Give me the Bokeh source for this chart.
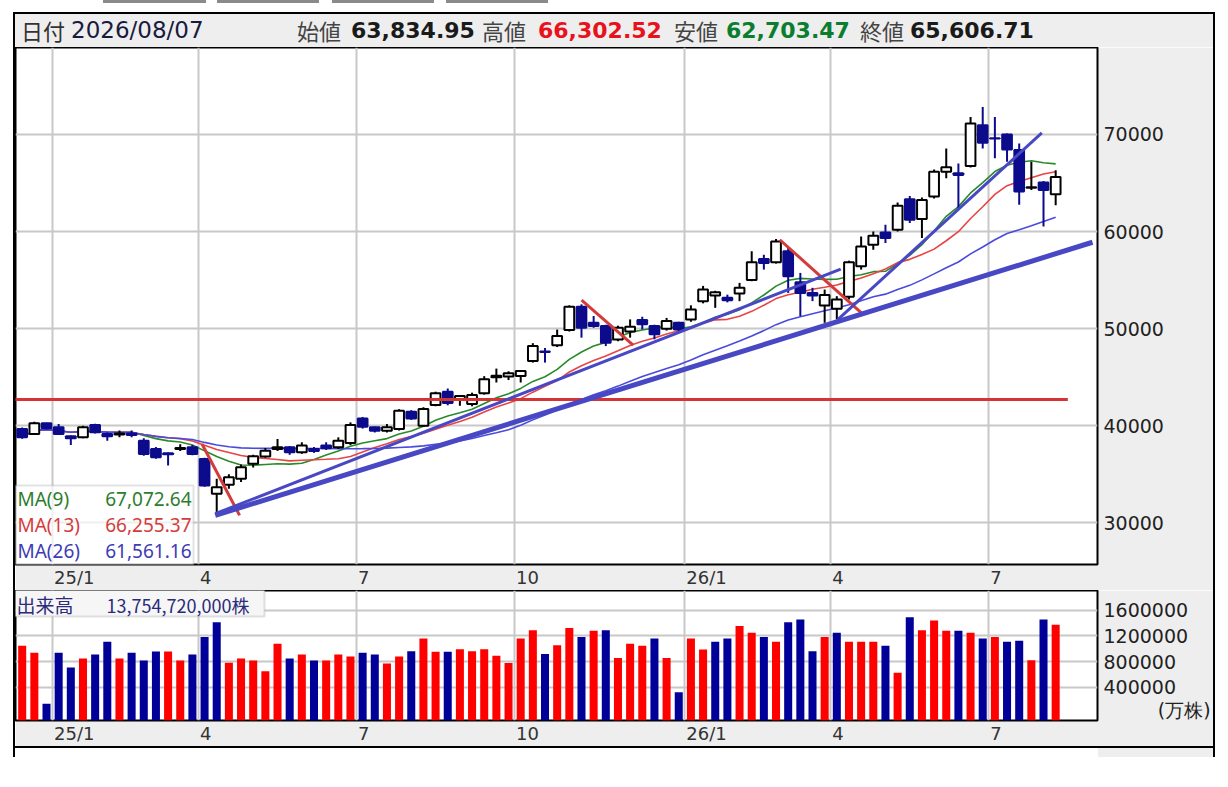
import pandas as pd
from bokeh.plotting import figure
from bokeh.models import (Range1d, FixedTicker, Label, BoxAnnotation, Div, Spacer,
                          ColumnDataSource, PrintfTickFormatter)
from bokeh.layouts import column, row
from bokeh.embed import file_html
from bokeh.resources import INLINE

# ---------------- data (weekly bars) ----------------
opens = [39650, 39150, 40240, 39830, 38900, 38800, 40070, 39150, 39100, 39200,
         38460, 37600, 37150, 37600, 37780, 36580, 32990, 33910, 34530, 36070,
         36820, 37600, 37780, 37260, 37600, 37950, 37780, 38220, 40750, 39830,
         39490, 39660, 41440, 40000, 42120, 43490, 42750, 42230, 43350, 44980,
         45060, 45130, 46670, 47650, 48280, 49850, 52250, 50600, 50260, 48890,
         49700, 50880, 50260, 49990, 50600, 50950, 52830, 53410, 53170, 53610,
         55000, 57170, 56830, 57960, 54780, 53680, 52385, 52040, 53270, 56420,
         58640, 59910, 60180, 63330, 61280, 63600, 66170, 66000, 66750, 70960,
         69610, 70000, 68390, 64520, 65040, 63834.95]
highs = [39800, 40400, 40300, 40170, 39000, 40000, 40200, 39300, 39500, 39500,
         38700, 37800, 37250, 38100, 38000, 36700, 34530, 35000, 36000, 37000,
         37700, 38630, 37900, 38290, 37800, 38290, 38800, 40340, 40900, 39900,
         40170, 41700, 41600, 41900, 43500, 43830, 43150, 43400, 45100, 45880,
         45600, 45700, 48500, 48000, 49900, 52400, 52500, 51300, 50400, 50300,
         50950, 51220, 50400, 51100, 50700, 52400, 54400, 53900, 53500, 54710,
         57960, 57620, 59220, 58300, 55740, 54200, 54025, 53340, 57000, 59500,
         60010, 60700, 63000, 63670, 63500, 66400, 68560, 67020, 71810, 72840,
         71810, 70100, 69070, 67190, 65200, 66302.52]
lows = [38650, 39050, 39600, 39050, 38000, 38700, 39200, 38460, 38800, 38800,
        36900, 36600, 35900, 37400, 36950, 33700, 30770, 33500, 34200, 35700,
        36700, 37400, 37000, 37100, 37200, 37500, 37600, 38000, 39700, 39300,
        39300, 39500, 40600, 39900, 42000, 42100, 42050, 42000, 43200, 44450,
        44700, 44450, 46500, 46500, 48100, 49700, 49070, 50090, 48200, 48700,
        49070, 49920, 48900, 49800, 49750, 50700, 52600, 52140, 52700, 52830,
        54880, 56080, 56700, 53680, 51290, 52830, 50600, 50950, 53000, 56080,
        58130, 58810, 60000, 60870, 59330, 63400, 65480, 62400, 66600, 68560,
        67540, 67190, 62750, 64290, 60520, 62703.47]
closes = [38800, 40240, 39730, 39150, 38700, 39830, 39320, 38900, 39200, 39050,
          37090, 36750, 37050, 37700, 37090, 33840, 33670, 34700, 35720, 36850,
          37430, 37770, 37260, 37950, 37400, 37670, 38460, 40070, 39900, 39490,
          39830, 41540, 40750, 41710, 43350, 42330, 43050, 43150, 44790, 45150,
          45400, 45640, 48210, 47600, 49230, 52250, 50090, 50260, 48550, 50090,
          50200, 50440, 49410, 50780, 49920, 51970, 54020, 53750, 52930, 54200,
          56830, 56760, 58985, 55390, 53680, 53410, 53450, 53000, 56830, 58470,
          59570, 59330, 62650, 61210, 63260, 66170, 66610, 65830, 71130, 69140,
          69580, 68460, 64120, 64550, 64290, 65606.71]
volumes = [1048300, 936400, 144000, 936400, 706500, 849000, 910400, 1109600, 849000, 936400,
           818400, 956300, 956300, 818400, 910400, 1181600, 1411500, 783200, 849000, 818400,
           649800, 1079000, 849000, 910400, 818400, 818400, 910400, 879700, 936400, 910400,
           772400, 879700, 962000, 1159500, 952000, 952000, 992400, 962000, 992400, 891200,
           779800, 1159500, 1286100, 916500, 1053200, 1323800, 1183300, 1278700, 1288700, 856900,
           1077800, 1047700, 1158200, 856900, 324700, 1158200, 987400, 1107900, 1158200, 1354000,
           1248500, 1183300, 1107900, 1414200, 1454400, 962300, 1183300, 1248500, 1107900, 1107900,
           1107900, 1047700, 625900, 1489500, 1288700, 1439300, 1278700, 1278700, 1248500, 1158200,
           1183300, 1107900, 1122900, 821700, 1454400, 1375472]

month_first_bar = [3, 15, 28, 41, 55, 67, 80]
month_labels = ["25/1", "4", "7", "10", "26/1", "4", "7"]
price_ticks = [30000, 40000, 50000, 60000, 70000]
vol_ticks = [400000, 800000, 1200000, 1600000]
vol_unit_label = "(万株)"
ma_periods = [9, 13, 26]
ma_legend_values = ["67,072.64", "66,255.37", "61,561.16"]

header_date = "2026/08/07"
header_open = "63,834.95"
header_high = "66,302.52"
header_low = "62,703.47"
header_close = "65,606.71"
volume_label = "出来高"
volume_text = "13,754,720,000株"

# user drawn lines (bar index, price)
blue_lines = dict(x0=[15.88, 15.88, 67.1], y0=[30759, 30934, 50944],
                  x1=[88.03, 67.32, 83.86], y1=[58897, 56126, 70164])
red_lines = dict(x0=[14.79, 46.01, 62.31], y0=[38117, 52925, 59153],
                 x1=[17.88, 50.25, 69.02], y1=[30759, 48307, 51632])
support_price = 42700
support_end_bar = 86

# ---------------- styles ----------------
GRAY = "#eeeeee"
GRID = "#c8c8c8"
NAVY = "#0b0b8c"
W = 1198
FRAME_W = 1083
RIGHT_W = W - FRAME_W
AXIS_FONT = "DejaVu Sans"
XLAB_PX = 18
MA_COLORS = ["#2a8a2a", "#e84444", "#4a4ade"]
MA_TEXT_COLORS = ["#2d7d2d", "#d43c3c", "#3c3cb4"]

n = len(closes)
xs = list(range(n))
up = [c >= o for o, c in zip(opens, closes)]
src = ColumnDataSource(dict(
    x=xs, high=highs, low=lows,
    top=[max(o, c) for o, c in zip(opens, closes)],
    bottom=[min(o, c) for o, c in zip(opens, closes)],
    fill=["white" if u else NAVY for u in up],
    line=["black" if u else NAVY for u in up],
))
vol_up = [True] + [closes[i] >= closes[i - 1] for i in range(1, n)]
vsrc = ColumnDataSource(dict(x=xs, vol=volumes,
                             color=["#ff0000" if u else "#000099" for u in vol_up]))
cs = pd.Series(closes, dtype=float)
mas = [cs.rolling(k, min_periods=1).mean().tolist() for k in ma_periods]

x_range = Range1d(-0.55, 88.44)
PX_PER_BAR = FRAME_W / (x_range.end - x_range.start)
month_ticks = [b - 0.5 for b in month_first_bar]


def label_shift(text):
    # month labels start at their gridline: shift centred tick label by half its width
    w = sum(0.337 if ch == "/" else 0.636 for ch in text) * XLAB_PX
    return (w / 2 + 1.5) / PX_PER_BAR


label_ticks = [t + label_shift(l) for t, l in zip(month_ticks, month_labels)]


def style(fig, yticks, extra_label=None):
    fig.grid.grid_line_color = GRID
    fig.grid.grid_line_width = 2
    fig.xgrid.ticker = FixedTicker(ticks=month_ticks)
    fig.ygrid.ticker = FixedTicker(ticks=yticks)
    xa = fig.xaxis[0]
    xa.ticker = FixedTicker(ticks=label_ticks)
    xa.major_label_overrides = dict(zip(label_ticks, month_labels))
    xa.major_label_text_font = AXIS_FONT
    xa.major_label_text_font_size = f"{XLAB_PX}px"
    xa.major_label_text_color = "#333333"
    xa.major_label_standoff = 2
    xa.major_tick_out = 0
    xa.major_tick_in = 0
    xa.minor_tick_out = 0
    xa.minor_tick_in = 0
    xa.axis_line_color = None
    ya = fig.yaxis[0]
    ticks = list(yticks)
    if extra_label is not None:
        ticks.append(extra_label[0])
        ya.major_label_overrides = {extra_label[0]: extra_label[1]}
    ya.ticker = FixedTicker(ticks=ticks)
    ya.formatter = PrintfTickFormatter(format="%d")
    ya.major_label_text_font = AXIS_FONT
    ya.major_label_text_font_size = "19px"
    ya.major_label_text_color = "#222222"
    ya.major_label_standoff = 6
    ya.major_tick_out = 0
    ya.major_tick_in = 0
    ya.minor_tick_out = 0
    ya.minor_tick_in = 0
    ya.axis_line_color = None


# ---------------- price panel ----------------
p = figure(width=W, height=543, x_range=x_range, y_range=Range1d(25700, 78958),
           output_backend="svg", toolbar_location=None, y_axis_location="right",
           min_border_left=0, min_border_right=RIGHT_W, min_border_top=0, min_border_bottom=24,
           border_fill_color=GRAY, background_fill_color="white",
           outline_line_color="black", outline_line_width=2)
style(p, price_ticks)

for vals, col in zip(mas, MA_COLORS):
    p.line(xs, vals, line_color=col, line_width=1.6)

p.segment(x0="x", y0="high", x1="x", y1="low", line_color="line", line_width=2, source=src)
p.vbar(x="x", width=0.8, top="top", bottom="bottom", fill_color="fill",
       line_color="line", line_width=2, source=src)

p.segment(x0=[x_range.start - 1], y0=[support_price], x1=[support_end_bar], y1=[support_price],
          line_color="#d43434", line_width=3)
p.segment(x0="x0", y0="y0", x1="x1", y1="y1", line_color="#d43c3c", line_width=3,
          source=ColumnDataSource(red_lines))
bsrc = ColumnDataSource(dict(blue_lines, w=[5, 3, 3]))
p.segment(x0="x0", y0="y0", x1="x1", y1="y1", line_color="#4848c4", line_width="w", source=bsrc)

p.add_layout(BoxAnnotation(left=-2, right=178, bottom=-2, top=79,
                           left_units="screen", right_units="screen",
                           bottom_units="screen", top_units="screen",
                           fill_color="white", fill_alpha=0.7,
                           line_color="#a0a0a0", line_width=2))
for k, (per, val, tc) in enumerate(zip(ma_periods, ma_legend_values, MA_TEXT_COLORS)):
    yy = 66 - k * 26
    p.add_layout(Label(x=2, y=yy, x_units="screen", y_units="screen", text=f"MA({per})",
                       text_font="Noto Sans", text_font_size="19px", text_color=tc,
                       text_align="left", text_baseline="middle"))
    p.add_layout(Label(x=176, y=yy, x_units="screen", y_units="screen", text=val,
                       text_font="Noto Sans", text_font_size="19px", text_color=tc,
                       text_align="right", text_baseline="middle"))

# ---------------- volume panel ----------------
VOL_LO, VOL_HI = -116500, 1906600
v = figure(width=W, height=156, x_range=x_range, y_range=Range1d(VOL_LO, VOL_HI),
           output_backend="svg", toolbar_location=None, y_axis_location="right",
           min_border_left=0, min_border_right=RIGHT_W, min_border_top=0, min_border_bottom=24,
           border_fill_color=GRAY, background_fill_color="white",
           outline_line_color="black", outline_line_width=2)
# unit caption shown in the axis column, at the foot of the volume scale
style(v, vol_ticks, extra_label=(48000, "\u00a0" * 9 + vol_unit_label))
v.vbar(x="x", width=0.66, top="vol", bottom=VOL_LO, fill_color="color", line_color=None, source=vsrc)

v.add_layout(BoxAnnotation(left=-2, right=249, bottom=104, top=140,
                           left_units="screen", right_units="screen",
                           bottom_units="screen", top_units="screen",
                           fill_color="#f6f6f6", fill_alpha=1.0,
                           line_color="#a0a0a0", line_width=2))
v.add_layout(Label(x=1, y=116, x_units="screen", y_units="screen", text=volume_label,
                   text_font="Noto Sans CJK JP", text_font_size="19px", text_color="#2b2b7a",
                   text_align="left", text_baseline="middle"))
v.add_layout(Label(x=91, y=116, x_units="screen", y_units="screen", text=volume_text,
                   text_font="Noto Sans CJK JP", text_font_size="18px", text_color="#2b2b7a",
                   text_align="left", text_baseline="middle"))


# ---------------- header / frame pieces ----------------
def bar(w, h, color):
    return Spacer(width=w, height=h, styles={"background-color": color})


def gap(w, h):
    return Spacer(width=w, height=h)


def span(left, text, font, size, color, bold=False):
    fw = "bold" if bold else "normal"
    return (f'<span style="position:absolute;left:{left}px;top:0;line-height:33px;'
            f"font-family:'{font}';font-size:{size}px;font-weight:{fw};color:{color}\">{text}</span>")


CJK = "Noto Sans CJK JP"
hdr = (f'<div style="position:relative;width:{W}px;height:33px;background:{GRAY};'
       f'white-space:nowrap;overflow:hidden;margin:0;padding:0">'
       + span(6, "日付", CJK, 22, "#333333")
       + span(56, header_date, "DejaVu Sans", 23, "#1a1a40")
       + span(282, "始値", CJK, 22, "#444444")
       + span(336, header_open, "DejaVu Sans", 22, "#1a1a1a", True)
       + span(467, "高値", CJK, 22, "#444444")
       + span(523, header_high, "DejaVu Sans", 22, "#e8121c", True)
       + span(659, "安値", CJK, 22, "#444444")
       + span(711, header_low, "DejaVu Sans", 22, "#0b7d2e", True)
       + span(845, "終値", CJK, 22, "#444444")
       + span(895, header_close, "DejaVu Sans", 22, "#1a1a1a", True)
       + '</div>')
header = Div(text=hdr, width=W, height=33, styles={"margin": "0", "padding": "0"})

TAB = "#8a8a8a"
tabs = row(gap(103, 3), bar(103, 3, TAB), gap(11, 3), bar(102, 3, TAB),
           gap(13, 3), bar(102, 3, TAB), gap(12, 3), bar(102, 3, TAB))

inner = column(
    bar(W, 2, "black"),
    header,
    p,
    v,
    bar(W, 2, "black"),
    row(bar(FRAME_W, 9, "white"), bar(RIGHT_W, 9, GRAY)),
)
H = 2 + 33 + 543 + 156 + 2 + 9
root = column(tabs, gap(1215, 9),
              row(gap(13, H), bar(2, H, "black"), inner, bar(2, H, "black")))

open("out.html", "w").write(file_html(root, INLINE))
